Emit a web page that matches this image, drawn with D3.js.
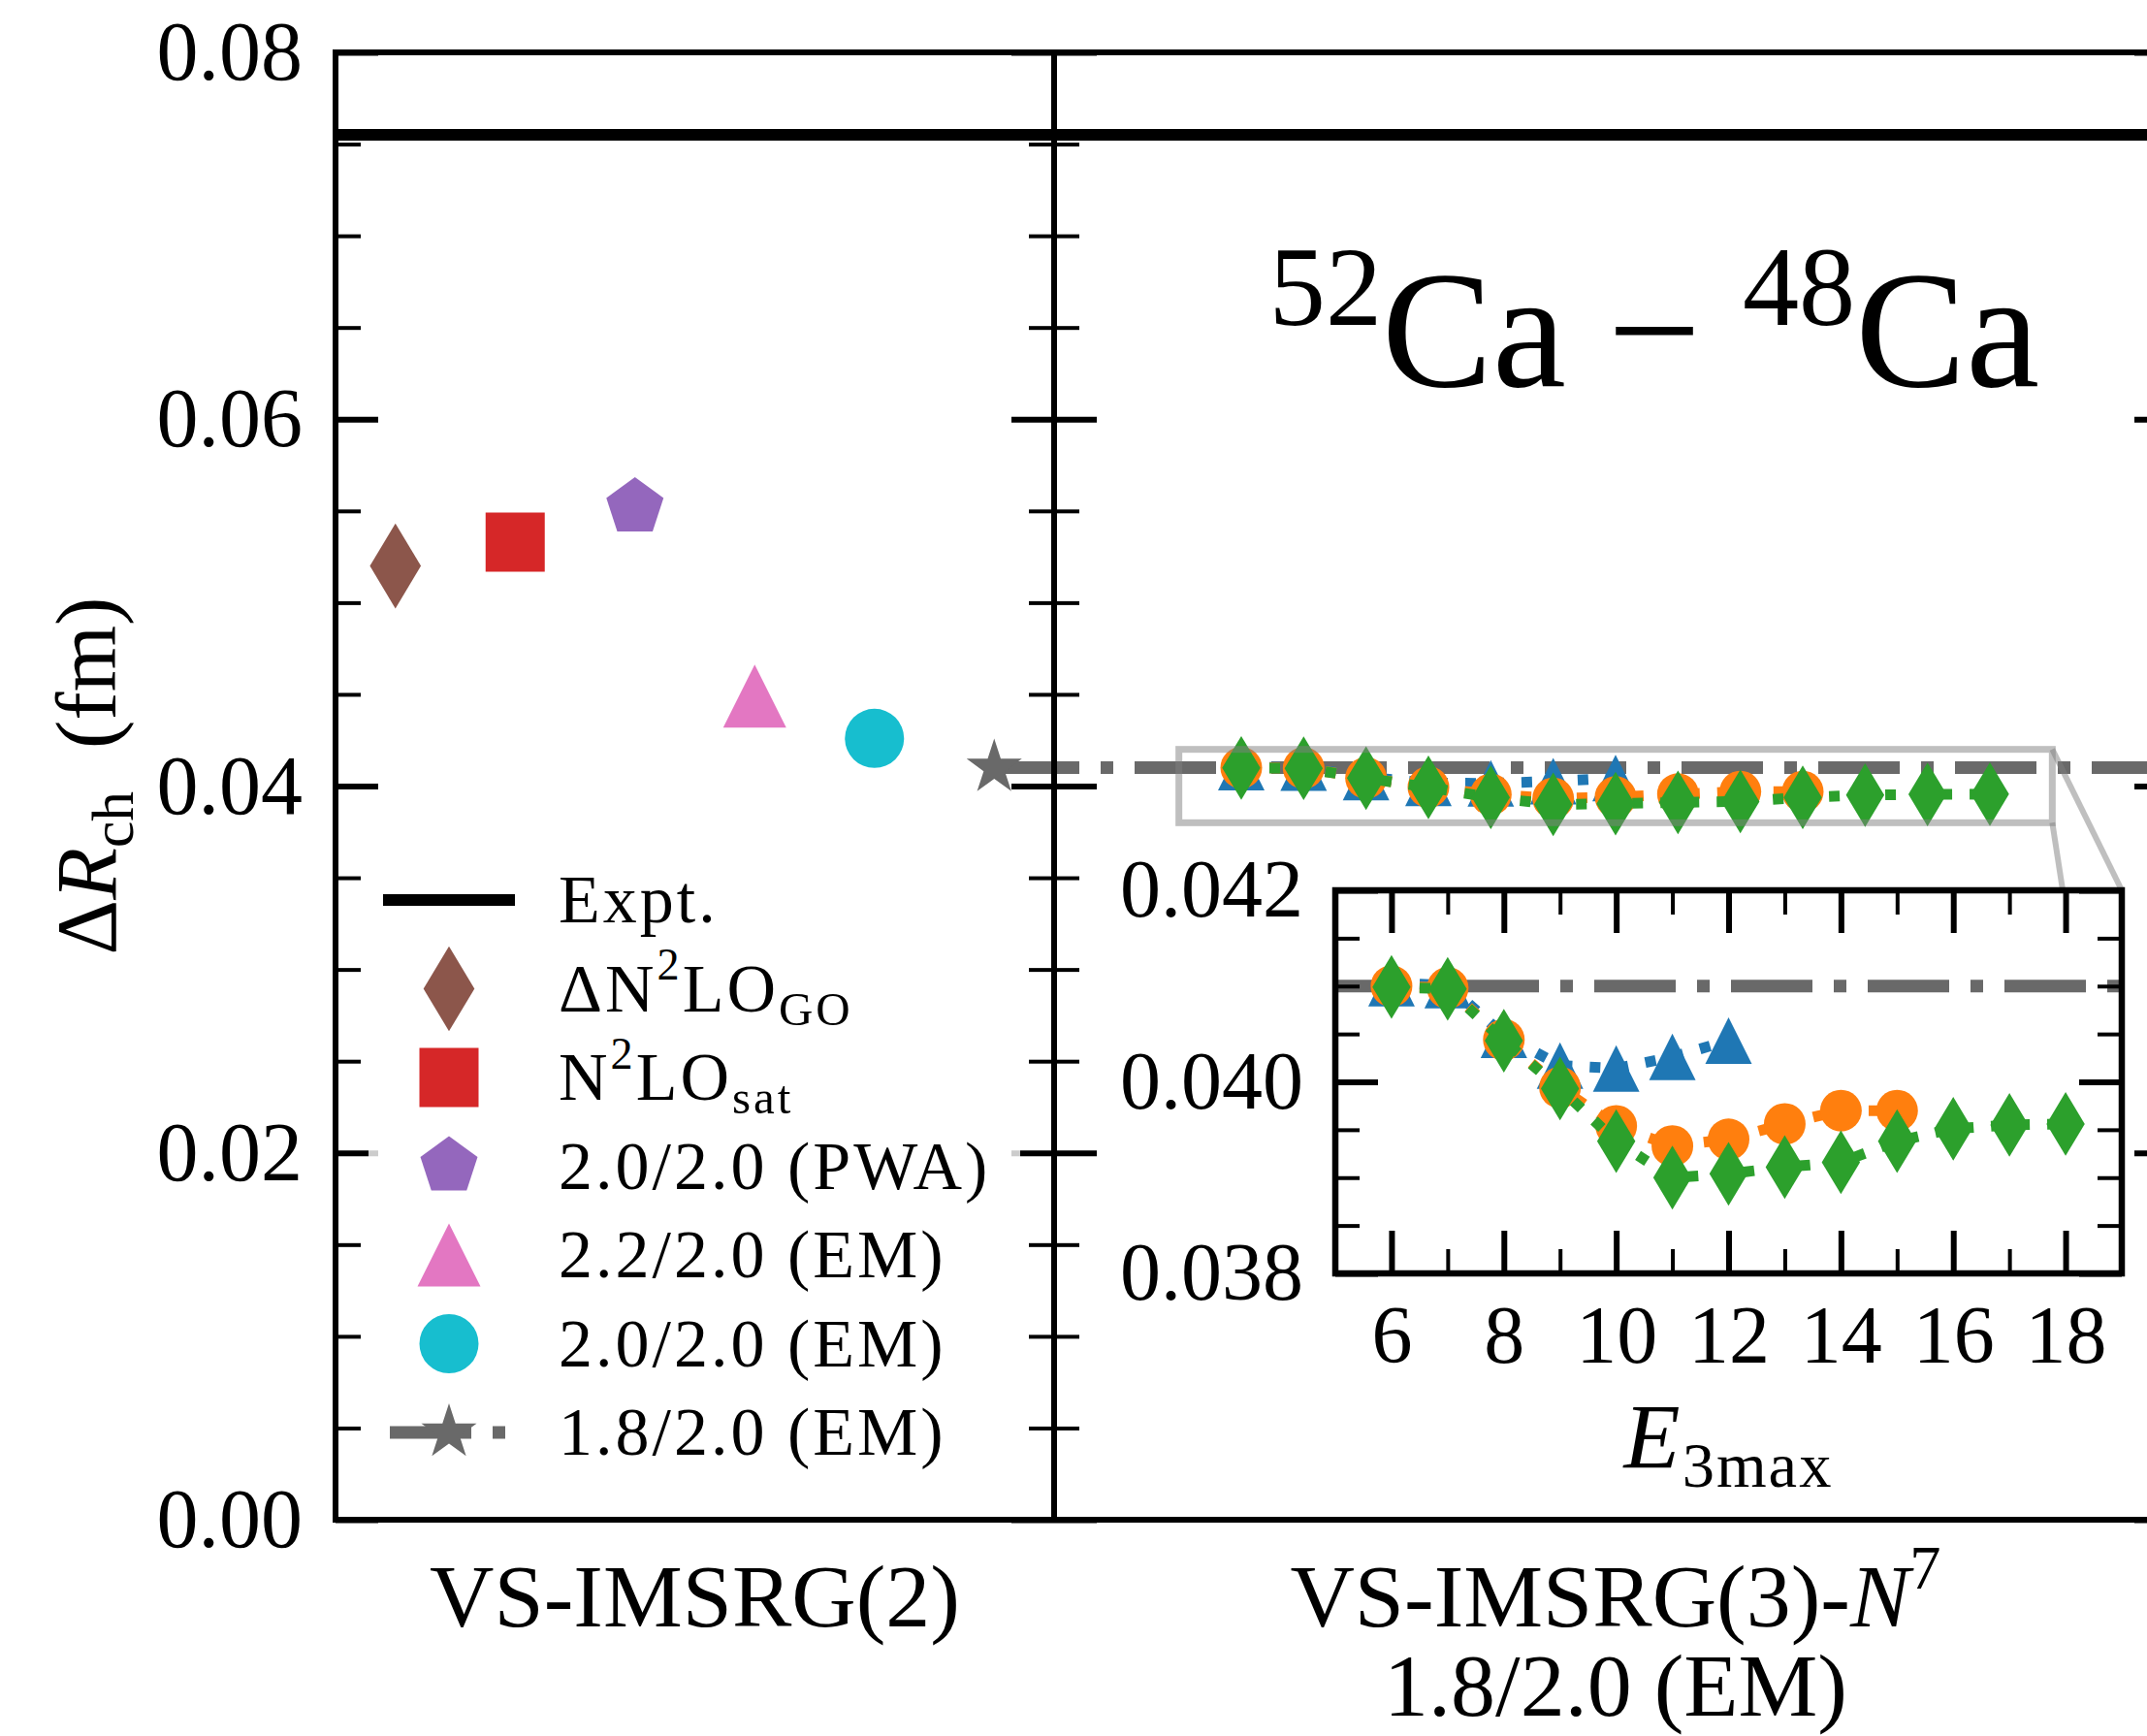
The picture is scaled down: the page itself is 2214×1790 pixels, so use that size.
<!DOCTYPE html>
<html>
<head>
<meta charset="utf-8">
<script src="https://cdn.jsdelivr.net/npm/d3@7/dist/d3.min.js"></script>
<style>
  html, body { margin: 0; padding: 0; background: #fff; }
  svg { display: block; }
  text { font-family: "Liberation Serif", "Times New Roman", serif; fill: #000; }
</style>
</head>
<body>
<svg id="chart"></svg>
<script>
// ---------- data ----------
const exptValue = 0.0755;

// VS-IMSRG(2), one point per interaction
const imsrg2Labels = ["ΔN^{2}LO_{GO}", "N^{2}LO_{sat}", "2.0/2.0 (PWA)", "2.2/2.0 (EM)", "2.0/2.0 (EM)", "1.8/2.0 (EM)"];
const imsrg2Values = [0.0520, 0.0533, 0.0552, 0.0449, 0.0426, 0.0410];
const imsrg2Colors = ["#8c564b", "#d62728", "#9467bd", "#e377c2", "#17becf", "#696969"];
const imsrg2Markers = ["d", "s", "p", "^", "o", "*"];

// VS-IMSRG(3)-N7, 1.8/2.0 (EM), vs E3max
const e3max = [6, 7, 8, 9, 10, 11, 12, 13, 14, 15, 16, 17, 18];
const seriesBlue = [0.04103, 0.04101, 0.04049, 0.04017, 0.04014, 0.04026, 0.04043];
const seriesOrange = [0.04100, 0.04098, 0.04044, 0.03994, 0.03954, 0.03933, 0.03940, 0.03956, 0.03970, 0.03970];
const seriesGreen = [0.04099, 0.04097, 0.04043, 0.03993, 0.03938, 0.03900, 0.03904, 0.03911, 0.03916, 0.03938, 0.03951, 0.03955, 0.03956];

// ticks
const mainMajor = [0, 0.02, 0.04, 0.06, 0.08];
const mainMinor = [0.005, 0.01, 0.015, 0.025, 0.03, 0.035, 0.045, 0.05, 0.055, 0.065, 0.07, 0.075];
const insetYMajor = [0.038, 0.040, 0.042];
const insetYMinor = [0.0385, 0.039, 0.0395, 0.0405, 0.041, 0.0415];
const insetXMajor = [6, 8, 10, 12, 14, 16, 18];
const insetXMinor = [7, 9, 11, 13, 15, 17];

const legendLabels = ["Expt."].concat(imsrg2Labels);

// ---------- layout ----------
const W = 2214, H = 1790;
const plotTop = 54, plotBottom = 1567, leftX = 346, sepX = 1087, rightX = 2245;
const inset = {x0: 1377, x1: 2188, y0: 918, y1: 1313};

const svg = d3.select("#chart").attr("width", W).attr("height", H);
svg.append("rect").attr("width", W).attr("height", H).attr("fill", "#fff");

const y = d3.scaleLinear().domain([0, 0.08]).range([plotBottom, plotTop]);
const xLeft = d3.scaleLinear().domain([0, 6]).range([leftX, sepX]);
const xMid = d3.scaleLinear().domain([3, 21]).range([sepX, rightX]);
const xIn = d3.scaleLinear().domain([5, 19]).range([inset.x0, inset.x1]);
const yIn = d3.scaleLinear().domain([0.038, 0.042]).range([inset.y1, inset.y0]);

const refValue = imsrg2Values[5];
const dashDot = "84 22 13 22";

// matplotlib-like marker outlines, ms = nominal marker size in px
function markerPath(kind, ms) {
  const r = ms / 2;
  if (kind === "o") {
    const p = d3.path(); p.arc(0, 0, r, 0, 2 * Math.PI); p.closePath(); return p.toString();
  }
  if (kind === "s") return `M${-r},${-r}H${r}V${r}H${-r}Z`;
  if (kind === "^") return `M0,${-r}L${r},${r}L${-r},${r}Z`;
  if (kind === "d") {
    const h = ms * Math.SQRT1_2, w = 0.6 * h;
    return `M0,${-h}L${w},0L0,${h}L${-w},0Z`;
  }
  if (kind === "p") {
    return "M" + d3.range(5).map(k => {
      const a = -Math.PI / 2 + k * 2 * Math.PI / 5;
      return [r * Math.cos(a), r * Math.sin(a)];
    }).join("L") + "Z";
  }
  if (kind === "*") {
    return "M" + d3.range(10).map(k => {
      const a = -Math.PI / 2 + k * Math.PI / 5;
      const rr = k % 2 ? r * 0.381966 : r;
      return [rr * Math.cos(a), rr * Math.sin(a)];
    }).join("L") + "Z";
  }
}
const markerSize = {"d": 62, "s": 61, "p": 62, "^": 65, "o": 61, "*": 60};

// text with ^{sup}, _{sub} and ${italic} pieces
function richText(sel, str, size, supScale = 0.7, supShift = 0.42) {
  const parts = str.split(/(\^\{[^}]*\}|_\{[^}]*\}|\$\{[^}]*\})/).filter(s => s.length);
  let shift = 0;
  parts.forEach(p => {
    let target = 0, fs = size, txt = p, italic = false;
    if (p.startsWith("^{")) { target = -supShift * size; fs = supScale * size; txt = p.slice(2, -1); }
    else if (p.startsWith("_{")) { target = 0.2 * size; fs = 0.7 * size; txt = p.slice(2, -1); }
    else if (p.startsWith("${")) { italic = true; txt = p.slice(2, -1); }
    const t = sel.append("tspan").attr("font-size", fs).attr("dy", target - shift).text(txt);
    if (italic) t.attr("font-style", "italic");
    shift = target;
  });
  return sel;
}

const defs = svg.append("defs");
defs.append("clipPath").attr("id", "clipLeft").append("rect")
  .attr("x", leftX).attr("y", plotTop).attr("width", sepX - leftX).attr("height", plotBottom - plotTop);
defs.append("clipPath").attr("id", "clipMid").append("rect")
  .attr("x", sepX).attr("y", plotTop).attr("width", rightX - sepX).attr("height", plotBottom - plotTop);

// ---------- experiment line across both panels ----------
svg.append("line")
  .attr("x1", leftX).attr("x2", rightX)
  .attr("y1", y(exptValue)).attr("y2", y(exptValue))
  .attr("stroke", "#000").attr("stroke-width", 12);

// ---------- left panel: VS-IMSRG(2) ----------
const left = svg.append("g").attr("clip-path", "url(#clipLeft)");
left.append("line")
  .attr("x1", xLeft(5.5)).attr("x2", xLeft(6.5))
  .attr("y1", y(refValue)).attr("y2", y(refValue))
  .attr("stroke", "#696969").attr("stroke-width", 13).attr("stroke-dasharray", dashDot);
left.selectAll(".pt")
  .data(imsrg2Values)
  .enter()
  .append("path")
  .attr("class", "pt")
  .attr("d", (v, i) => markerPath(imsrg2Markers[i], markerSize[imsrg2Markers[i]]))
  .attr("transform", (v, i) => `translate(${xLeft(i + 0.5)},${y(v)})`)
  .attr("fill", (v, i) => imsrg2Colors[i]);

// ---------- E3max series, drawn in the middle panel and in the inset ----------
const seriesDefs = [
  {values: seriesBlue, color: "#1f77b4", marker: "^", ms: 48},
  {values: seriesOrange, color: "#ff7f0e", marker: "o", ms: 43},
  {values: seriesGreen, color: "#2ca02c", marker: "d", ms: 46.5}
];

function drawSeries(g, sx, sy) {
  seriesDefs.forEach(s => {
    const pts = s.values.map((v, i) => [e3max[i], v]);
    const line = d3.line().x(d => sx(d[0])).y(d => sy(d[1]));
    g.append("path")
      .attr("d", line(pts))
      .attr("fill", "none")
      .attr("stroke", s.color)
      .attr("stroke-width", 11)
      .attr("stroke-dasharray", "11 18");
    g.selectAll(null)
      .data(pts)
      .enter()
      .append("path")
      .attr("d", markerPath(s.marker, s.ms))
      .attr("transform", d => `translate(${sx(d[0])},${sy(d[1])})`)
      .attr("fill", s.color);
  });
}

const mid = svg.append("g").attr("clip-path", "url(#clipMid)");
mid.append("line")
  .attr("x1", sepX).attr("x2", rightX)
  .attr("y1", y(refValue)).attr("y2", y(refValue))
  .attr("stroke", "#696969").attr("stroke-width", 13)
  .attr("stroke-dasharray", dashDot).attr("stroke-dashoffset", 58);
drawSeries(mid, xMid, y);

// zoom indicator and connectors
const zoomBox = {x0: xMid(5), x1: xMid(19), y0: y(0.042), y1: y(0.038)};
mid.append("rect")
  .attr("x", zoomBox.x0).attr("y", zoomBox.y0)
  .attr("width", zoomBox.x1 - zoomBox.x0).attr("height", zoomBox.y1 - zoomBox.y0)
  .attr("fill", "none").attr("stroke", "#7f7f7f").attr("stroke-opacity", 0.5).attr("stroke-width", 7);
mid.append("line")
  .attr("x1", zoomBox.x1).attr("y1", zoomBox.y0).attr("x2", inset.x1).attr("y2", inset.y0)
  .attr("stroke", "#7f7f7f").attr("stroke-opacity", 0.5).attr("stroke-width", 6);
mid.append("line")
  .attr("x1", zoomBox.x1).attr("y1", zoomBox.y1).attr("x2", inset.x1).attr("y2", inset.y1)
  .attr("stroke", "#7f7f7f").attr("stroke-opacity", 0.5).attr("stroke-width", 6);

// ---------- ticks and spines of the main panels ----------
function styleAxis(g, width, fontSize) {
  g.select(".domain").remove();
  g.selectAll(".tick line").attr("stroke", "#000").attr("stroke-width", width);
  g.attr("font-family", null).attr("font-size", fontSize);
  g.selectAll(".tick text").attr("fill", "#000");
}

function yTicks(x, scale, values, len, width, side, labelFmt, pad) {
  const axis = (side === "left" ? d3.axisLeft(scale) : d3.axisRight(scale))
    .tickValues(values).tickSize(-len)
    .tickPadding(pad || 0)
    .tickFormat(labelFmt || "");
  const g = svg.append("g").attr("transform", `translate(${x},0)`).call(axis);
  styleAxis(g, width, 86);
  return g;
}

yTicks(leftX, y, mainMajor, 44, 6, "left", d3.format(".2f"), 34);
yTicks(leftX, y, mainMinor, 26, 4, "left");
yTicks(sepX, y, mainMajor, 44, 6, "right");
yTicks(sepX, y, mainMinor, 26, 4, "right");
yTicks(sepX, y, mainMajor, 44, 6, "left");
yTicks(sepX, y, mainMinor, 26, 4, "left");
yTicks(rightX, y, mainMajor, 44, 6, "right");
yTicks(rightX, y, mainMinor, 26, 4, "right");

svg.append("rect")
  .attr("x", leftX).attr("y", plotTop).attr("width", rightX - leftX).attr("height", plotBottom - plotTop)
  .attr("fill", "none").attr("stroke", "#000").attr("stroke-width", 6);
svg.append("line")
  .attr("x1", sepX).attr("x2", sepX).attr("y1", plotTop).attr("y2", plotBottom)
  .attr("stroke", "#000").attr("stroke-width", 6);

// ---------- title ----------
richText(svg.append("text")
  .attr("x", 1706).attr("y", 398)
  .attr("text-anchor", "middle"), "^{52}Ca − ^{48}Ca", 171, 0.68, 0.37);

// ---------- inset ----------
const ins = svg.append("g");
ins.append("rect")
  .attr("x", inset.x0).attr("y", inset.y0)
  .attr("width", inset.x1 - inset.x0).attr("height", inset.y1 - inset.y0)
  .attr("fill", "#fff");
ins.append("line")
  .attr("x1", inset.x0).attr("x2", inset.x1)
  .attr("y1", yIn(refValue)).attr("y2", yIn(refValue))
  .attr("stroke", "#696969").attr("stroke-width", 13)
  .attr("stroke-dasharray", dashDot).attr("stroke-dashoffset", 15);
drawSeries(ins, xIn, yIn);

function insetAxis(axisFn, translate, values, len, width, fmt, pad) {
  const axis = axisFn.tickValues(values).tickSize(-len).tickPadding(pad || 0).tickFormat(fmt || "");
  const g = ins.append("g").attr("transform", translate).call(axis);
  styleAxis(g, width, 84);
  return g;
}
insetAxis(d3.axisLeft(yIn), `translate(${inset.x0},0)`, insetYMajor, 44, 6, d3.format(".3f"), 33);
insetAxis(d3.axisLeft(yIn), `translate(${inset.x0},0)`, insetYMinor, 25, 4);
insetAxis(d3.axisRight(yIn), `translate(${inset.x1},0)`, insetYMajor, 44, 6);
insetAxis(d3.axisRight(yIn), `translate(${inset.x1},0)`, insetYMinor, 25, 4);
insetAxis(d3.axisBottom(xIn), `translate(0,${inset.y1})`, insetXMajor, 44, 6, d3.format("d"), 32);
insetAxis(d3.axisBottom(xIn), `translate(0,${inset.y1})`, insetXMinor, 25, 4);
insetAxis(d3.axisTop(xIn), `translate(0,${inset.y0})`, insetXMajor, 44, 6);
insetAxis(d3.axisTop(xIn), `translate(0,${inset.y0})`, insetXMinor, 25, 4);
ins.append("rect")
  .attr("x", inset.x0).attr("y", inset.y0)
  .attr("width", inset.x1 - inset.x0).attr("height", inset.y1 - inset.y0)
  .attr("fill", "none").attr("stroke", "#000").attr("stroke-width", 6.5);

richText(ins.append("text")
  .attr("x", (inset.x0 + inset.x1) / 2).attr("y", 1514)
  .attr("text-anchor", "middle")
  .attr("letter-spacing", 2), "${E}_{3max}", 95);

// ---------- legend ----------
const legend = svg.append("g");
legend.append("rect")
  .attr("x", 380).attr("y", 872).attr("width", 672).attr("height", 660)
  .attr("fill", "#fff").attr("fill-opacity", 0.8);
const legY = i => 928 + i * 91.5;
const handleX = 463;

legend.append("line")
  .attr("x1", handleX - 62).attr("x2", handleX + 62)
  .attr("y1", legY(0)).attr("y2", legY(0))
  .attr("stroke", "#000").attr("stroke-width", 12).attr("stroke-linecap", "square");
legend.append("line")
  .attr("x1", handleX - 61).attr("x2", handleX + 61)
  .attr("y1", legY(6)).attr("y2", legY(6))
  .attr("stroke", "#696969").attr("stroke-width", 13).attr("stroke-dasharray", dashDot);
legend.selectAll(".lm")
  .data(imsrg2Markers)
  .enter()
  .append("path")
  .attr("class", "lm")
  .attr("d", m => markerPath(m, markerSize[m]))
  .attr("transform", (m, i) => `translate(${handleX},${legY(i + 1)})`)
  .attr("fill", (m, i) => imsrg2Colors[i]);

legendLabels.forEach((lab, i) => {
  richText(legend.append("text")
    .attr("x", 576).attr("y", legY(i) + 23)
    .attr("letter-spacing", 3), lab, 70, 0.66, 0.46);
});

// ---------- axis labels ----------
richText(svg.append("text")
  .attr("transform", "translate(119,800) rotate(-90)")
  .attr("text-anchor", "middle"), "Δ${R}_{ch}\u2002(fm)", 88);

richText(svg.append("text")
  .attr("x", (leftX + sepX) / 2).attr("y", 1677)
  .attr("text-anchor", "middle"), "VS-IMSRG(2)", 92);
richText(svg.append("text")
  .attr("x", (sepX + rightX) / 2).attr("y", 1677)
  .attr("text-anchor", "middle"), "VS-IMSRG(3)-${N}^{7}", 92);
richText(svg.append("text")
  .attr("x", (sepX + rightX) / 2).attr("y", 1769)
  .attr("text-anchor", "middle"), "1.8/2.0 (EM)", 92);
</script>
</body>
</html>
